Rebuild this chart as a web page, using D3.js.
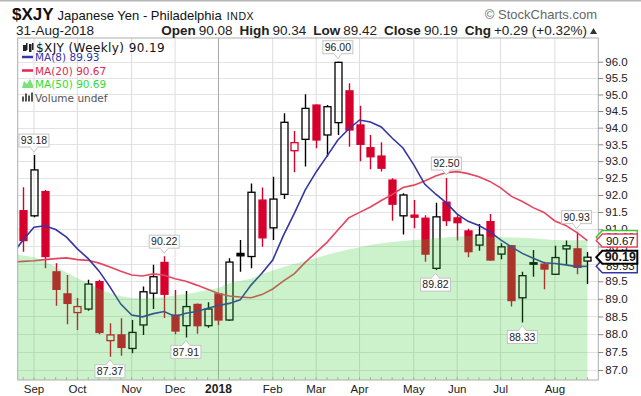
<!DOCTYPE html>
<html>
<head>
<meta charset="utf-8">
<script src="https://cdn.jsdelivr.net/npm/d3@7"></script>
<style>
  body { margin: 0; background: #fff; }
  svg { display: block; font-family: "Liberation Sans", Arial, sans-serif; }
</style>
</head>
<body>
<svg id="chart" width="641" height="396"></svg>
<script>
// weekly bars, Aug 28 2017 .. Aug 27 2018 (dated by Monday)
const weeks = d3.timeMonday.range(new Date(2017, 7, 28), new Date(2018, 8, 1));

const open  = [91.54, 91.39, 92.10, 89.77, 89.14, 88.61, 88.71, 89.49, 87.82, 87.98, 87.60, 88.26, 89.16, 90.04, 88.54, 88.24, 88.84, 88.24, 89.14, 88.40, 90.30, 90.21, 91.85, 91.04, 92.02, 93.31, 93.65, 94.68, 93.78, 94.15, 95.11, 94.08, 93.40, 93.15, 92.44, 91.39, 91.41, 91.32, 89.87, 91.79, 91.33, 90.95, 90.54, 91.22, 90.28, 90.52, 89.03, 90.02, 89.99, 89.70, 90.43, 90.43, 90.08];
const high  = [92.23, 93.18, 92.15, 90.02, 89.68, 89.02, 89.54, 89.54, 88.31, 88.45, 88.40, 89.35, 89.97, 90.22, 89.25, 89.22, 88.87, 88.90, 89.18, 90.16, 90.69, 92.34, 92.22, 92.54, 94.43, 93.90, 95.01, 94.70, 94.68, 96.00, 95.34, 94.66, 93.78, 93.56, 92.49, 92.05, 91.85, 91.41, 91.77, 92.50, 91.41, 91.01, 91.15, 91.44, 90.59, 90.54, 89.77, 90.40, 90.06, 90.52, 90.67, 90.93, 90.34];
const low   = [90.35, 91.35, 89.87, 88.80, 88.28, 88.12, 88.66, 88.00, 87.37, 87.40, 87.47, 87.98, 88.71, 88.46, 88.00, 87.91, 88.01, 88.18, 88.26, 88.37, 89.77, 89.87, 90.49, 90.69, 91.88, 92.67, 92.84, 93.38, 93.13, 93.78, 93.43, 93.00, 92.76, 92.69, 91.25, 90.85, 91.03, 90.06, 89.82, 91.09, 90.67, 90.19, 90.38, 90.09, 90.13, 88.78, 88.33, 89.63, 89.27, 89.68, 89.97, 89.70, 89.42];
const close = [90.67, 92.74, 90.21, 89.27, 88.87, 88.78, 89.42, 88.05, 87.98, 87.63, 88.05, 89.20, 89.63, 89.13, 88.09, 88.78, 88.24, 88.71, 88.40, 90.05, 90.23, 92.08, 90.75, 91.88, 94.16, 93.55, 94.58, 93.63, 94.63, 95.98, 93.93, 93.50, 93.13, 92.79, 91.73, 92.00, 91.35, 90.28, 91.36, 91.25, 91.19, 90.35, 90.83, 90.11, 90.49, 88.95, 89.66, 90.00, 89.85, 90.18, 90.52, 89.90, 90.19];

// moving averages; first value is the week before the window
const ma8  = [90.28, 90.69, 91.06, 91.10, 90.99, 90.77, 90.43, 90.15, 89.79, 89.34, 88.85, 88.54, 88.49, 88.58, 88.64, 88.50, 88.59, 88.64, 88.73, 88.81, 88.87, 88.97, 89.39, 89.73, 90.11, 90.83, 91.47, 92.15, 92.68, 93.15, 93.63, 93.96, 94.23, 94.17, 94.02, 93.69, 93.39, 92.89, 92.32, 92.03, 91.77, 91.44, 91.23, 91.11, 90.93, 90.69, 90.49, 90.30, 90.16, 90.03, 90.01, 89.97, 89.92, 89.93];
const ma20 = [90.05, 90.07, 90.09, 90.12, 90.15, 90.17, 90.12, 90.10, 90.02, 89.91, 89.79, 89.68, 89.65, 89.71, 89.67, 89.57, 89.50, 89.39, 89.27, 89.15, 89.08, 89.05, 89.03, 89.12, 89.28, 89.51, 89.72, 90.04, 90.33, 90.62, 90.98, 91.33, 91.49, 91.65, 91.84, 92.01, 92.22, 92.29, 92.41, 92.56, 92.66, 92.69, 92.63, 92.54, 92.40, 92.21, 91.96, 91.81, 91.63, 91.49, 91.24, 91.11, 90.91, 90.67];
const ma50 = [90.28, 90.24, 90.19, 90.07, 89.91, 89.75, 89.59, 89.44, 89.29, 89.16, 89.08, 89.02, 89.01, 89.02, 89.05, 89.10, 89.14, 89.19, 89.25, 89.31, 89.44, 89.51, 89.57, 89.71, 89.81, 89.91, 90.00, 90.08, 90.17, 90.26, 90.34, 90.41, 90.48, 90.54, 90.59, 90.63, 90.66, 90.69, 90.71, 90.74, 90.76, 90.78, 90.80, 90.79, 90.78, 90.77, 90.76, 90.75, 90.74, 90.71, 90.69, 90.68, 90.68, 90.69];

const peakBars = [1, 13, 29, 39, 51];
const troughBars = [8, 15, 38, 46];
const yTicks = d3.range(174, 193).map(d => d / 2);   // 87.0 .. 96.0

const RED = '#d7002d', BLUE = '#3535a5', PINK = '#e64560';

const svg = d3.select('#chart');
const L = 17.7, R = 598.3, T = 38, B = 380;

const x = d3.scaleLinear().domain([-0.5, 53]).range([L, R]);
const y = d3.scaleLog().domain([87, 96]).range([370, 61.7]);

svg.append('rect').attr('width', 641).attr('height', 396).attr('fill', '#fff');
svg.append('line').attr('x1', 0).attr('x2', 641).attr('y1', 0.75).attr('y2', 0.75)
    .attr('stroke', '#b4b4b4').attr('stroke-width', 1.5);

svg.append('clipPath').attr('id', 'plot')
    .append('rect').attr('x', L).attr('y', T).attr('width', R - L).attr('height', B - T);

// grid
svg.append('g').selectAll('line').data(yTicks).enter().append('line')
    .attr('x1', L).attr('x2', R)
    .attr('y1', d => Math.round(y(d)) + 0.5).attr('y2', d => Math.round(y(d)) + 0.5)
    .attr('stroke', '#e3e3e3');

const monthStarts = d3.range(1, weeks.length).filter(i => weeks[i].getMonth() !== weeks[i - 1].getMonth());
svg.append('g').selectAll('line').data(monthStarts).enter().append('line')
    .attr('x1', i => x(i)).attr('x2', i => x(i)).attr('y1', T).attr('y2', B)
    .attr('stroke', i => weeks[i].getMonth() === 0 ? '#a8a8a8' : '#dddddd');

// small week ticks along the bottom
svg.append('g').selectAll('line').data(weeks).enter().append('line')
    .attr('x1', (d, i) => x(i)).attr('x2', (d, i) => x(i)).attr('y1', B - 3).attr('y2', B)
    .attr('stroke', '#b8b8b8');

// candles
const bars = svg.append('g').attr('clip-path', 'url(#plot)');
weeks.forEach((d, i) => {
    const o = open[i], c = close[i];
    const prev = i > 0 ? close[i - 1] : o;
    const col = c < prev ? RED : '#000';
    const filled = c < o;
    const cx = Math.round(x(i)) + 0.5;
    let top = y(Math.max(o, c)), bot = y(Math.min(o, c));
    if (bot - top < 1.5) { const m = (top + bot) / 2; top = m - 0.75; bot = m + 0.75; }
    bars.append('line').attr('x1', cx).attr('x2', cx).attr('y1', y(high[i])).attr('y2', top)
        .attr('stroke', col).attr('stroke-width', 1.4);
    bars.append('line').attr('x1', cx).attr('x2', cx).attr('y1', bot).attr('y2', y(low[i]))
        .attr('stroke', col).attr('stroke-width', 1.4);
    bars.append('rect').attr('x', cx - 3.5).attr('y', top).attr('width', 7).attr('height', bot - top)
        .attr('fill', filled ? col : 'none').attr('stroke', col).attr('stroke-width', 1.3);
});

// moving averages (index 0 of the arrays is bar -1)
const line = d3.line().x((d, k) => x(k - 1)).y(d => y(d));
const mas = svg.append('g').attr('clip-path', 'url(#plot)');
mas.append('path').attr('d', line(ma20)).attr('fill', 'none').attr('stroke', PINK).attr('stroke-width', 1.6);
mas.append('path').attr('d', line(ma8)).attr('fill', 'none').attr('stroke', BLUE).attr('stroke-width', 1.6);

const area = d3.area().x((d, k) => x(k - 1)).y0(B).y1(d => y(d));
mas.append('path').attr('d', area(ma50)).attr('fill', '#2ecc2e').attr('fill-opacity', 0.25);

// frame
svg.append('rect').attr('x', L).attr('y', T).attr('width', R - L).attr('height', B - T)
    .attr('fill', 'none').attr('stroke', '#adadad');

// high / low call-outs
function callout(i, val, above) {
    const cx = x(i), py = y(val);
    const g = svg.append('g');
    const by = above ? py - 21 : py + 8;
    const edge = above ? py - 8 : py + 8;
    const tip = above ? py - 3 : py + 3;
    let bx = cx - 15;
    if (bx < L + 1) bx = L + 1;
    g.append('rect').attr('x', bx).attr('y', by).attr('width', 30).attr('height', 13)
        .attr('fill', '#fff').attr('stroke', '#c4c4c4');
    g.append('path').attr('d', `M${cx - 4},${edge}L${cx},${tip}L${cx + 4},${edge}`)
        .attr('fill', '#fff').attr('stroke', '#c4c4c4');
    g.append('line').attr('x1', cx - 3.4).attr('x2', cx + 3.4).attr('y1', edge).attr('y2', edge)
        .attr('stroke', '#fff').attr('stroke-width', 1.2);
    g.append('text').attr('x', bx + 15).attr('y', by + 10.3).attr('text-anchor', 'middle')
        .attr('font-size', 10.5).attr('fill', '#222').text(val.toFixed(2));
}
peakBars.forEach(i => callout(i, high[i], true));
troughBars.forEach(i => callout(i, low[i], false));

// right axis
const axis = svg.append('g').attr('transform', `translate(${R},0)`)
    .call(d3.axisRight(y).tickValues(yTicks).tickFormat(d3.format('.1f')).tickSize(5).tickPadding(2));
axis.select('.domain').remove();
axis.selectAll('line').attr('stroke', '#888');
axis.selectAll('text').attr('font-size', 11.5).attr('fill', '#222')
    .attr('font-family', '"Liberation Sans", Arial, sans-serif');

// month labels
svg.append('g').selectAll('text').data(monthStarts).enter().append('text')
    .attr('x', i => x(i)).attr('y', 393).attr('text-anchor', 'middle')
    .attr('font-size', i => weeks[i].getMonth() === 0 ? 12 : 11.5)
    .attr('font-weight', i => weeks[i].getMonth() === 0 ? 'bold' : 'normal')
    .attr('fill', '#222')
    .text(i => weeks[i].getMonth() === 0 ? d3.timeFormat('%Y')(weeks[i]) : d3.timeFormat('%b')(weeks[i]));

// value tags at the right edge (they overlap in the original too)
function tag(val, dy, stroke, sw, bold) {
    const py = y(val) + dy;
    const g = svg.append('g');
    g.append('path')
        .attr('d', `M${R - 2},${py}L${R + 4},${py - 6.5}L${R + 39},${py - 6.5}L${R + 39},${py + 6.5}L${R + 4},${py + 6.5}Z`)
        .attr('fill', '#fff').attr('stroke', stroke).attr('stroke-width', sw);
    g.append('text').attr('x', R + 22).attr('y', py + 4).attr('text-anchor', 'middle')
        .attr('font-size', bold ? 12.5 : 11.5).attr('font-weight', bold ? 'bold' : 'normal')
        .attr('fill', '#111').text(val.toFixed(2));
}
tag(ma50[ma50.length - 1], -3, '#33cc33', 1.5, false);
tag(ma20[ma20.length - 1], 0, PINK, 1.5, false);
tag(ma8[ma8.length - 1], 0, BLUE, 1.5, false);
tag(close[close.length - 1], 0, '#000', 2, true);

// legend
const lg = svg.append('g').attr('font-family', '"DejaVu Sans", Verdana, sans-serif');
const lastClose = close[close.length - 1];
[[23, 4, 45, 51], [26, 2, 43, 50], [29, 3, 44, 52], [32, 2, 43, 50]].forEach(([bx, w, t, b]) => {
    lg.append('rect').attr('x', bx).attr('y', t).attr('width', w - 0.5).attr('height', b - t).attr('fill', '#222');
});
lg.append('text').attr('x', 36).attr('y', 51.5).attr('font-size', 12).attr('letter-spacing', 0.4)
    .attr('fill', '#111').text(`$XJY (Weekly) ${lastClose.toFixed(2)}`);

const legendRows = [
    { label: `MA(8) ${ma8[ma8.length - 1].toFixed(2)}`, color: BLUE, y: 61 },
    { label: `MA(20) ${ma20[ma20.length - 1].toFixed(2)}`, color: '#e0284c', y: 74.5 },
    { label: `MA(50) ${ma50[ma50.length - 1].toFixed(2)}`, color: '#33dd33', y: 88 },
    { label: 'Volume undef', color: '#555', y: 101.5 }
];
legendRows.forEach((r, k) => {
    if (k < 2) {
        lg.append('line').attr('x1', 22).attr('x2', 33).attr('y1', r.y - 4).attr('y2', r.y - 4)
            .attr('stroke', r.color).attr('stroke-width', 2.5);
    } else if (k === 2) {
        lg.append('path').attr('d', `M22,${r.y}L24,${r.y - 7}L27,${r.y - 4}L30,${r.y - 9}L33,${r.y - 3}L33,${r.y}Z`)
            .attr('fill', '#7de07d');
    } else {
        [[22, 5], [25, 8], [28, 6], [31, 9]].forEach(([bx, h]) => {
            lg.append('rect').attr('x', bx).attr('y', r.y - h).attr('width', 2).attr('height', h).attr('fill', '#555');
        });
    }
    lg.append('text').attr('x', 35).attr('y', r.y).attr('font-size', 10.5).attr('fill', r.color).text(r.label);
});

// header
const hd = svg.append('g');
const t1 = hd.append('text').attr('x', 12).attr('y', 20).attr('fill', '#111');
t1.append('tspan').attr('font-size', 17).attr('font-weight', 'bold').text('$XJY');
t1.append('tspan').attr('font-size', 13).attr('dx', 4).text('Japanese Yen - Philadelphia');
t1.append('tspan').attr('font-size', 10.5).attr('dx', 5).attr('letter-spacing', 0.6).text('INDX');
hd.append('text').attr('x', 597).attr('y', 19).attr('text-anchor', 'end').attr('font-size', 13)
    .attr('fill', '#666').text('\u00a9 StockCharts.com');

hd.append('text').attr('x', 16).attr('y', 35).attr('font-size', 13.5).attr('fill', '#222').text('31-Aug-2018');
const last = close.length - 1;
const chg = close[last] - close[last - 1];
const parts = [
    ['Open', open[last].toFixed(2)], ['High', high[last].toFixed(2)], ['Low', low[last].toFixed(2)],
    ['Close', close[last].toFixed(2)], ['Chg', `+${chg.toFixed(2)} (+${(chg / close[last - 1] * 100).toFixed(2)}%)`]
];
const t2 = hd.append('text').attr('x', 587).attr('y', 35).attr('text-anchor', 'end').attr('font-size', 13.5).attr('fill', '#222');
parts.forEach(([k, v], n) => {
    t2.append('tspan').attr('font-weight', 'bold').attr('dx', n ? 7 : 0).text(k);
    t2.append('tspan').attr('dx', 3).text(v);
});
hd.append('path').attr('d', 'M590,34L597,34L593.5,28Z').attr('fill', '#333');
</script>
</body>
</html>
